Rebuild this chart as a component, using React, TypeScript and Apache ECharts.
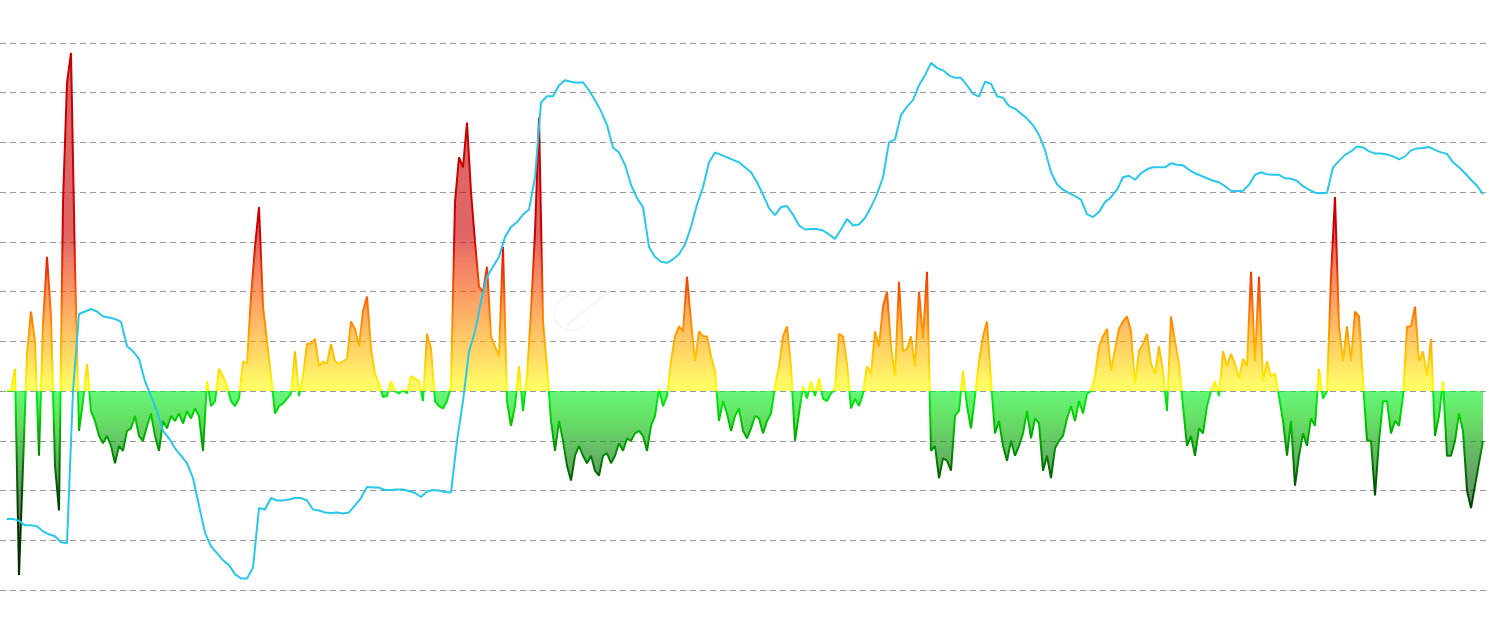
import React, { useEffect, useRef } from "react";
import * as echarts from "echarts";

// Oscillator (area series), one value per sampling step
const oscillator: number[] = [
  0, 0, 0.45, -3.7, -1.5, 0.75, 1.6, 1.0, -1.3, 1.35, 2.7, 1.5, -1.5, -2.4, 3.8, 6.2, 6.8, 2.5, -0.8, -0.2, 0.55, -0.4, -0.6, -0.9,
  -1.05, -0.9, -1.1, -1.45, -1.1, -1.2, -0.8, -0.75, -0.5, -0.9, -1.0, -0.7, -0.45, -0.9, -1.2, -0.6, -0.75, -0.5, -0.6, -0.45, -0.65, -0.4, -0.55, -0.35, -0.5, -1.2, 0.2, -0.3, -0.2, 0.45, 0.3, 0.1, -0.2, -0.3, -0.15, 0.6, 0.55,
  1.9, 2.9, 3.7, 1.7, 1.0, 0.3, -0.45, -0.3, -0.25, -0.15, -0.05, 0.8, -0.1, 0.3, 0.95, 0.95, 1.05, 0.5, 0.6, 0.55, 0.95, 0.6, 0.55, 0.6, 0.65, 1.4, 1.25, 0.9, 1.6, 1.9, 0.85, 0.35, 0.15, -0.12, -0.1, 0.2, 0.0, -0.05, 0.02, -0.05, 0.3, 0.25, 0.2, -0.2, 1.15, 0.85, -0.2, -0.3, -0.35, -0.2, 0.1,
  3.8, 4.7, 4.5, 5.4, 4.0, 3.0, 2.1, 2.0, 2.5, 1.1, 0.9, 0.7, 2.9, -0.2, -0.7, -0.3, 0.5, -0.4, 0.3, 1.6, 3.2, 5.5, 1.4, 0.5, -0.6, -1.2, -0.6, -1.0, -1.5, -1.8, -1.3, -1.1, -1.3, -1.45, -1.3, -1.6, -1.7, -1.3, -1.25, -1.45, -1.3, -1.05, -1.2, -0.95, -1.0, -0.85, -0.8, -0.9, -1.2,
  -0.7, -0.5, 0.05, -0.3, -0.1, 0.6, 1.1, 1.3, 1.2, 2.3, 1.4, 0.6, 1.2, 1.1, 1.1, 0.7, 0.4, -0.6, -0.2, -0.45, -0.8, -0.5, -0.35, -0.8, -0.95, -0.75, -0.5, -0.55, -0.85, -0.6, -0.45, 0.1, 0.5, 1.1, 1.3, 0.5, -1.0, -0.45, 0.1, -0.15, 0.2, -0.1, 0.25, -0.15, -0.2, -0.05, 0.05, 1.15, 1.1, 0.55, -0.35, -0.15, -0.3, -0.05, 0.5, 0.35, 1.2, 0.9, 1.7, 2.0, 0.9, 0.3, 2.2, 0.8, 0.85, 1.1, 0.5, 2.0, 1.05, 2.4,
  -1.2, -1.1, -1.75, -1.35, -1.4, -1.6, -0.5, -0.4, 0.4, -0.3, -0.75, -0.1, 0.6, 1.1, 1.4, 0.2, -0.85, -0.6, -1.1, -1.4, -1.0, -1.3, -1.1, -0.85, -0.4, -0.95, -0.55, -0.65, -1.6, -1.3, -1.75, -1.15, -1.0, -0.9, -0.55, -0.3, -0.6, -0.2, -0.45, -0.05, 0.0, 0.3, 0.9, 1.1, 1.25, 0.4, 0.85, 1.25, 1.4, 1.5, 1.2, 0.15, 0.8, 0.95, 1.15, 0.55, 0.35, 0.9, 0.4, -0.4, 1.5, 1.0, 0.55, -0.3, -1.1, -0.9, -1.3, -0.75, -0.85, -0.3,
  0.0, 0.2, -0.1, 0.8, 0.5, 0.75, 0.55, 0.25, 0.65, 0.5, 2.4, 0.6, 2.3, 0.2, 0.6, 0.3, 0.35, -0.1, -0.6, -1.3, -0.6, -1.9, -1.3, -0.85, -1.1, -0.55, -0.7, 0.45, -0.15, 0.0, 2.3, 3.9, 1.3, 0.6, 1.3, 0.6, 1.6, 1.5, 0.2, -1.0, -1.0, -2.1, -1.0, -0.2, -0.2, -0.85, -0.6, -0.7, -0.1, 1.3, 1.3, 1.7, 0.6, 0.8, 0.3, 1.05, -0.9, -0.5, 0.2, -1.3, -1.3, -1.0, -0.45, -0.8, -2.0, -2.35, -1.9, -1.45, -1.0,
];

// Price-like line (right axis), sampled every 1.5 oscillator steps
const price: number[] = [
  14.3, 14.3, 13.9, 13.0, 13.0, 12.8, 11.8, 11.2, 10.8, 9.6, 9.4, 40, 55.5, 56, 56.5, 56, 55, 54.8, 54.5, 53.9, 49, 48, 46.5, 42, 39, 36, 32, 30.5, 28.5, 27, 25.5, 22.5, 17, 11.5, 8.8, 7.4, 6, 5, 3.2, 2.3, 2.3,
  4.5, 16.5, 16.2, 18.5, 18, 18, 18.2, 18.5, 18.5, 18, 16.2, 16, 15.6, 15.5, 15.6, 15.4, 15.6, 17, 18.5, 20.7, 20.6, 20.6, 20.1, 20.1, 20.2, 20.2, 19.9, 19.5, 18.7, 19.8, 20.1, 20, 19.7, 19.6, 30, 38, 48, 52, 58, 63,
  65, 67, 71, 73, 74, 75.5, 76.5, 83, 98, 99.3, 99.3, 101.5, 102.5, 102.2, 102, 102.1, 100.5, 98.5, 96.3, 93.5, 89, 88, 85.5, 81.5, 78.8, 77, 69, 67, 66, 65.8, 66.5, 67.5, 69.5, 73, 77.5, 81, 86, 88, 87.5, 87,
  86.5, 86, 85, 84, 82, 79.5, 76.8, 75.4, 77, 77.2, 75.5, 73.3, 72.5, 72.6, 72.6, 72.3, 71.5, 70.6, 72.5, 74.6, 73.3, 73.5, 74.8, 77, 79.6, 83, 90, 90.6, 95.5, 97.2, 98.5, 101.5, 103.5, 106, 105, 104.5, 103.5, 103, 103, 101.5,
  99.8, 99.2, 102.2, 101.8, 99.3, 99, 97.3, 96.8, 95.8, 94.8, 93.5, 91.5, 88.5, 84, 81.6, 80.5, 79.8, 79.2, 78.5, 75.6, 75, 76, 78, 79, 80.5, 83, 83.3, 82.5, 83.8, 84.6, 85, 85, 85, 85.8, 85.5, 85.4, 84.5, 83.8, 83.3, 82.8,
  82.3, 82, 81.2, 80.3, 80.2, 80.3, 81.5, 83.5, 84, 83.6, 83.5, 83.5, 82.8, 82.7, 82.3, 81.2, 80.5, 79.9, 79.8, 79.9, 85, 86.3, 87.5, 88.2, 89.2, 89, 88.2, 87.8, 87.8, 87.6, 87.2, 86.6, 87.2, 88.4, 88.8, 88.9, 89.1, 88.5, 88, 87.7, 86, 85, 83.8, 82.5, 81.3, 79.6,
];

const PRICE_STEP = 1.5;

// Axis ranges
const OSC_MIN = -4;
const OSC_MAX = 7;
const PRICE_MIN = 0;
const PRICE_MAX = 110;
const X_MIN = -1.75;
const X_MAX = 370;

// Oscillator colour scale (value -> colour)
const colorScale: [number, string][] = [
  [7, "#c40000"],
  [3.1, "#cc0000"],
  [2.5, "#ea3000"],
  [2.0, "#fa5500"],
  [1.5, "#ff8000"],
  [1.0, "#ffaa00"],
  [0.5, "#ffd400"],
  [0.06, "#ffff00"],
  [0.0, "#ffff00"],
  [-0.001, "#00f020"],
  [-0.5, "#00d000"],
  [-1.0, "#00a000"],
  [-1.5, "#007200"],
  [-2.0, "#005200"],
  [-2.5, "#003a00"],
  [-4, "#002800"],
];

export default function App() {
  const ref = useRef<HTMLDivElement>(null);

  useEffect(() => {
    if (!ref.current) return;
    const chart = echarts.init(ref.current, null, { renderer: "svg" });
    const gridTop = 43;
    const gridBottom = 43;
    const height = 633;
    const y0 = gridTop;
    const y1 = height - gridBottom;
    const gradient = () => ({
      type: "linear",
      x: 0,
      y: y0,
      x2: 0,
      y2: y1,
      global: true,
      colorStops: colorScale.map(([v, c]) => ({
        offset: Math.min(1, Math.max(0, (OSC_MAX - v) / (OSC_MAX - OSC_MIN))),
        color: c,
      })),
    });

    chart.setOption({
      animation: false,
      backgroundColor: "#ffffff",
      grid: { left: 0, right: 3, top: gridTop, bottom: gridBottom, containLabel: false },
      xAxis: { type: "value", min: X_MIN, max: X_MAX, show: false },
      yAxis: [
        {
          type: "value",
          min: OSC_MIN,
          max: OSC_MAX,
          interval: 1,
          axisLine: { show: false },
          axisTick: { show: false },
          axisLabel: { show: false },
          splitLine: { show: true, lineStyle: { color: "#9a9a9a", width: 1, type: [6, 4] } },
        },
        { type: "value", min: PRICE_MIN, max: PRICE_MAX, show: false, splitLine: { show: false } },
      ],
      graphic: [
        {
          type: "arc",
          silent: true,
          z: 1,
          shape: { cx: 572, cy: 313, r: 18, startAngle: 0.35, endAngle: 5.5 },
          style: { stroke: "rgba(120,120,140,0.07)", lineWidth: 1.5, fill: "none" },
        },
        {
          type: "line",
          silent: true,
          z: 1,
          shape: { x1: 567, y1: 325, x2: 607, y2: 293 },
          style: { stroke: "rgba(190,190,255,0.14)", lineWidth: 3, lineCap: "round" },
        },
      ],
      series: [
        {
          type: "line",
          yAxisIndex: 0,
          data: oscillator.map((v, i) => [i, v]),
          showSymbol: false,
          symbol: "none",
          lineStyle: { width: 2, color: gradient() },
          areaStyle: { color: gradient(), opacity: 0.6 },
          z: 2,
        },
        {
          type: "line",
          yAxisIndex: 1,
          data: price.map((v, k) => [k * PRICE_STEP, v]),
          showSymbol: false,
          symbol: "none",
          lineStyle: { width: 2, color: "#29c8ea" },
          z: 3,
        },
      ],
    });
    return () => chart.dispose();
  }, []);

  return (
    <div
      ref={ref}
      style={{ position: "absolute", left: 0, top: 0, width: 1490, height: 633 }}
    />
  );
}
